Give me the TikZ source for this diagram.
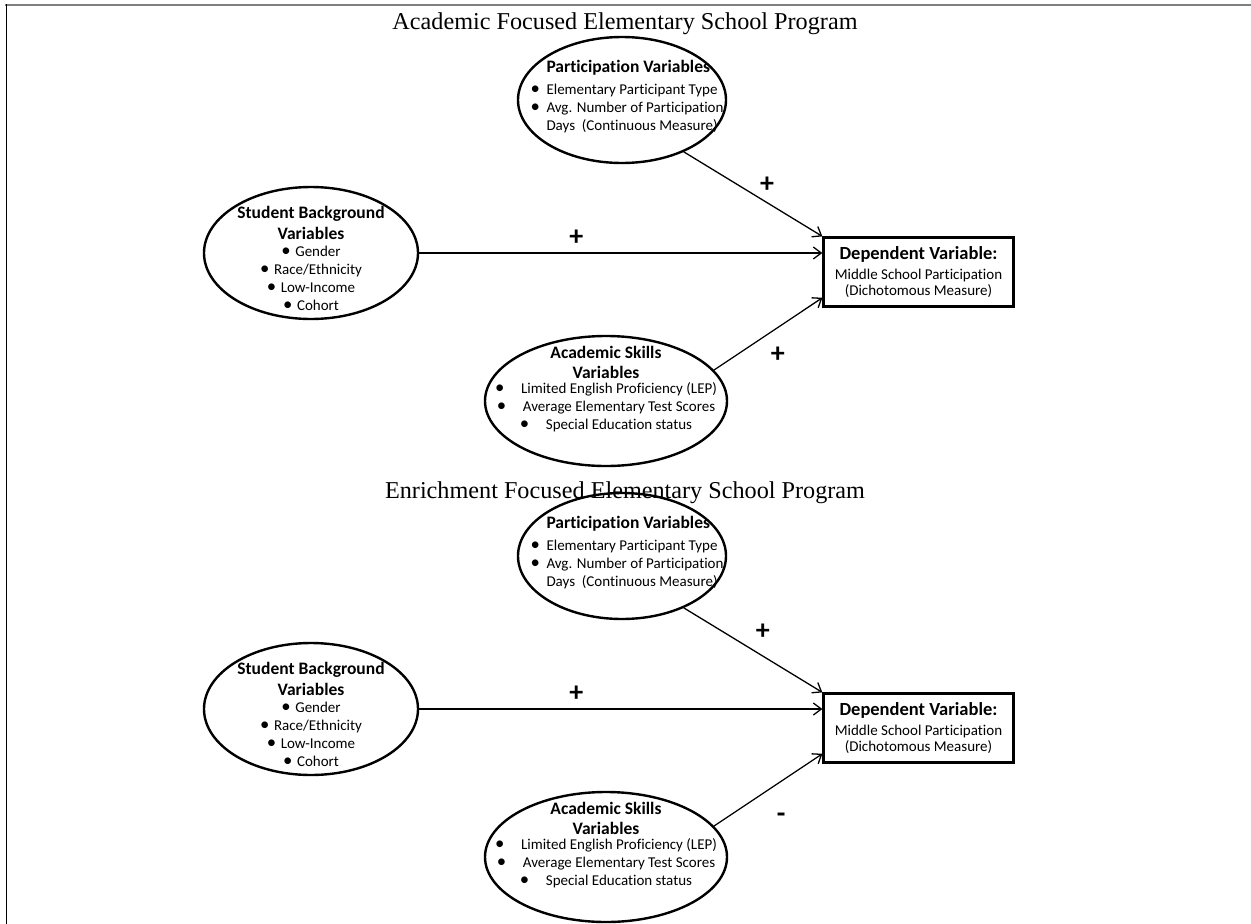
\documentclass[tikz,border=0pt]{standalone}
\usepackage{fontspec}
\setmainfont{Liberation Serif}
\newfontfamily\calibri[Ligatures=NoCommon]{Carlito}
\usepackage{tikz}
\usetikzlibrary{shapes.geometric,arrows.meta,positioning}
\definecolor{framegray}{RGB}{128,128,128}
\newcommand{\blt}[1]{\makebox[#1][l]{\scalebox{1.25}{\textbullet}}}
\newcommand{\ellhead}[1]{{\bfseries\fontsize{17.5}{18}\selectfont #1}}
\newcommand{\partvars}{\hspace*{16pt}\ellhead{Participation Variables}\\[4pt]
  \blt{16pt}Elementary Participant Type\\
  \blt{16pt}Avg. Number of Participation\\
  \hspace*{16pt}Days\ \ (Continuous Measure)}
\newcommand{\backvars}{\ellhead{Student Background}\\[3pt]
  \ellhead{Variables}\\[-1pt]
  \blt{14pt}Gender\\ \blt{14pt}Race/Ethnicity\\ \blt{14pt}Low-Income\\ \blt{14pt}Cohort}
\newcommand{\skillvars}{\ellhead{Academic Skills}\\[2pt]
  \ellhead{Variables}\\[-3pt]
  \blt{26pt}Limited English Proficiency (LEP)\\
  \blt{26pt}Average Elementary Test Scores\\
  \blt{26pt}Special Education status}
\newcommand{\depvar}{{\bfseries\fontsize{18.5}{20}\selectfont Dependent Variable:}\\[2pt]
  Middle School Participation\\[-2pt]
  (Dichotomous Measure)}

\begin{document}
\begin{tikzpicture}[
    x=1pt, y=-1pt,
    varell/.style={ellipse,draw,line width=2.4pt,inner sep=0pt},
    ellabel/.style={font=\calibri\fontsize{15}{18}\selectfont,inner sep=0pt},
    partell/.style={varell,minimum width=208pt,minimum height=126pt,
      label={[ellabel,align=left,xshift=5pt,yshift=3pt]center:{\partvars}}},
    backell/.style={varell,minimum width=214pt,minimum height=132pt,
      label={[ellabel,align=center,yshift=-5pt]center:{\backvars}}},
    skillell/.style={varell,minimum width=242pt,minimum height=130pt,
      label={[ellabel,align=center,yshift=12pt]center:{\skillvars}}},
    depbox/.style={rectangle,draw,line width=2.2pt,minimum width=190pt,minimum height=69pt,
      inner sep=0pt,align=center,font=\calibri\fontsize{15}{18}\selectfont},
    link/.style={-{Straight Barb[length=8pt,width=12pt]},line width=1.3pt},
    sign/.style={font=\calibri\bfseries\fontsize{28}{28}\selectfont,inner sep=0pt},
    progtitle/.style={font=\fontsize{24.2}{26}\selectfont,anchor=base}
]
\useasboundingbox (0,0) rectangle (1251,924);

% Frame
\draw[framegray,line width=2pt] (5,5) -- (1251,5);
\draw[line width=1.5pt] (6.5,4) -- (6.5,924);

% Academic program
\node[progtitle] (t1) at (625,29) {Academic Focused Elementary School Program};
\node[partell] (pv1) at (622,100) {};
\node[backell] (sb1) at (311,253) {};
\node[skillell] (as1) at (606,401) {};
\node[depbox] (dv1) at (918.5,272) {\depvar};

\draw[link] (pv1.-40) -- node[sign,pos=.6,above=9pt] {+} (dv1.north west);
\draw[link] (sb1.east) -- node[sign,pos=.39,above=7pt] {+} (sb1.east -| dv1.west);
\draw[link] (as1.16) -- node[sign,pos=.59,below=19pt] {+} (dv1.195);

% Enrichment program
\node[progtitle] (t2) at (625,498) {Enrichment Focused Elementary School Program};
\node[partell] (pv2) at (622,556) {};
\node[backell] (sb2) at (311,709) {};
\node[skillell] (as2) at (606,857) {};
\node[depbox] (dv2) at (918.5,728) {\depvar};

\draw[link] (pv2.-40) -- node[sign,pos=.57,above=16pt] {+} (dv2.north west);
\draw[link] (sb2.east) -- node[sign,pos=.39,above=7pt] {+} (sb2.east -| dv2.west);
\draw[link] (as2.16) -- node[sign,pos=.62,below=31pt] {-} (dv2.195);

\end{tikzpicture}
\end{document}
